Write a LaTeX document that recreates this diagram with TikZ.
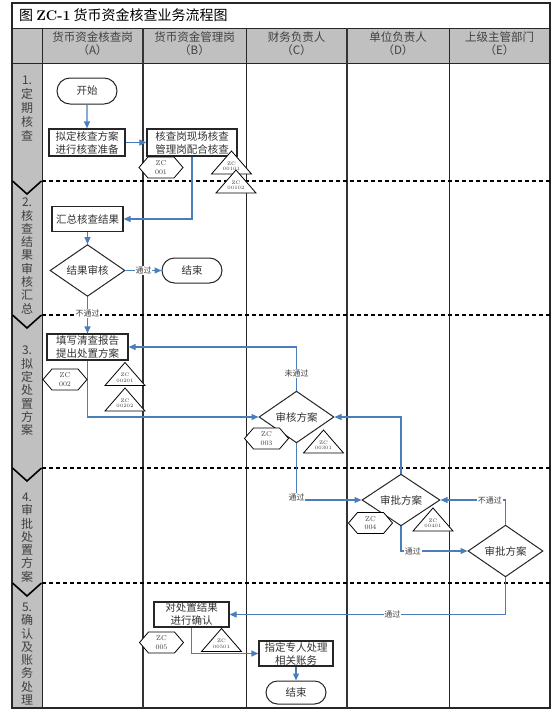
\documentclass[tikz,border=0pt]{standalone}
\usepackage{fontspec}
\newfontfamily\cjk{Noto Sans CJK SC}
\usetikzlibrary{arrows.meta,shapes.geometric,shapes.misc}
\definecolor{flowblue}{RGB}{74,126,187}
\definecolor{lanegray}{RGB}{192,192,192}
\newcommand\zctri[3]{% x, y, text
  \draw[fill=white,line width=0.8pt] (#1,#2) ++(-20,11.5) -- ++(40,0) -- ++(-20,-23) -- cycle;
  \node[trilbl] at (#1,#2+4) {ZC\\#3};}
\newcommand\zchex[3]{% x, y, text
  \draw[fill=white,line width=0.8pt] (#1,#2) ++(-22,0) -- ++(9,-10.5) -- ++(26,0) -- ++(9,10.5) -- ++(-9,10.5) -- ++(-26,0) -- cycle;
  \node[hexlbl] at (#1,#2) {ZC\\#3};}
\begin{document}
\begin{tikzpicture}[x=1pt,y=-1pt,
  flow/.style={draw=flowblue, line width=1.1pt, -{Triangle[length=7pt,width=6pt]}},
  boxn/.style={draw=black!85, line width=1.2pt, fill=white, align=center, inner sep=0pt,
     font=\cjk\fontsize{10.5}{13}\selectfont, text=black!80},
  termn/.style={rounded rectangle, draw=black!85, line width=1pt, fill=white, inner sep=0pt,
     font=\cjk\fontsize{10.5}{13}\selectfont, text=black!80},
  decn/.style={diamond, draw=black!85, line width=1pt, fill=white, inner sep=0pt,
     font=\cjk\fontsize{10.5}{13}\selectfont, text=black!80},
  lbl/.style={fill=white, inner sep=0.8pt, font=\cjk\fontsize{8}{9}\selectfont, text=black!75},
  trilbl/.style={align=center, inner sep=0pt, font=\fontsize{5}{5.5}\selectfont, text=black!75},
  hexlbl/.style={align=center, inner sep=0pt, font=\fontsize{7}{8.5}\selectfont, text=black!75},
  phase/.style={align=center, inner sep=0pt, text=black!75, font=\cjk\fontsize{12}{13.3}\selectfont},
  headt/.style={align=center, inner sep=0pt, text=black!75, font=\cjk\fontsize{11.5}{13}\selectfont},
  lane/.style={line width=1pt, draw=black!85},
  lanethick/.style={line width=1.8pt, draw=black!80},
  sep/.style={line width=1.6pt, dash pattern=on 4pt off 3pt},
  chev/.style={line width=1.6pt, draw=black}
]
\useasboundingbox (0,0) rectangle (554,720);
% fills
\fill[lanegray] (12,28) rectangle (550,63);
\fill[lanegray] (12,63) rectangle (42,708);
% title
\node[anchor=west, inner sep=0pt, font=\cjk\fontsize{14}{16}\selectfont] (title) at (19,15)
  {图 {\rmfamily\bfseries ZC-1} 货币资金核查业务流程图};
% frame
\draw[line width=1.2pt, draw=black!85] (12,3) rectangle (550,708);
\draw[lane] (12,28) -- (550,28);
\draw[lane] (12,63) -- (550,63);
\draw[lane] (42,28) -- (42,708);
\draw[lanethick] (143,28) -- (143,708);
\draw[lane] (246,28) -- (246,708);
\draw[lanethick] (347,28) -- (347,708);
\draw[lane] (449,28) -- (449,708);
% header
\node[headt] (hA) at (92.5,43.5) {货币资金核查岗\\（A）};
\node[headt] (hB) at (194.5,43.5) {货币资金管理岗\\（B）};
\node[headt] (hC) at (296.5,43.5) {财务负责人\\（C）};
\node[headt] (hD) at (398,43.5) {单位负责人\\（D）};
\node[headt] (hE) at (499.5,43.5) {上级主管部门\\（E）};
% phase separators
\foreach \yy in {181,315,468,583} {
  \draw[sep] (42,\yy) -- (550,\yy);
  \draw[chev] (12.5,\yy) -- (27,\yy+13) -- (41.5,\yy);
}
% phase labels
\node[phase, font=\cjk\fontsize{12}{14}\selectfont] (p1) at (27,109) {1.\\定\\期\\核\\查};
\node[phase] (p2) at (27,256) {2.\\核\\查\\结\\果\\审\\核\\汇\\总};
\node[phase] (p3) at (27,391) {3.\\拟\\定\\处\\置\\方\\案};
\node[phase] (p4) at (27,537.5) {4.\\审\\批\\处\\置\\方\\案};
\node[phase] (p5) at (27,654) {5.\\确\\认\\及\\账\\务\\处\\理};
% nodes
\node[termn, minimum width=60pt, minimum height=26pt] (start) at (87,91) {开始};
\node[boxn, minimum width=76pt, minimum height=27pt] (b1) at (87,142.5) {拟定核查方案\\进行核查准备};
\node[boxn, minimum width=90pt, minimum height=27pt] (b2) at (192,142.5) {核查岗现场核查\\管理岗配合核查};
\node[boxn, minimum width=71pt, minimum height=25pt] (b3) at (87.5,219) {汇总核查结果};
\node[decn, minimum width=75pt, minimum height=35pt] (d1) at (87.5,270.5) {结果审核};
\node[termn, minimum width=60pt, minimum height=25pt] (end1) at (192,270.5) {结束};
\node[boxn, minimum width=81pt, minimum height=26pt] (b4) at (87.5,347) {填写清查报告\\提出处置方案};
\node[decn, minimum width=75pt, minimum height=38pt] (d2) at (296.5,417) {审核方案};
\node[decn, minimum width=78pt, minimum height=38pt] (d3) at (401,500) {审批方案};
\node[decn, minimum width=75pt, minimum height=38pt] (d4) at (505.5,551) {审批方案};
\node[boxn, minimum width=75pt, minimum height=25pt] (b5) at (191.5,614.5) {对处置结果\\进行确认};
\node[boxn, minimum width=74pt, minimum height=25pt] (b6) at (296,653.5) {指定专人处理\\相关账务};
\node[termn, minimum width=60pt, minimum height=23pt] (end2) at (296,692.5) {结束};
% connectors
\draw[flow] (start) -- (b1);
\draw[flow] (b1) -- (b2);
\draw[flow] (b2.south) |- (b3.east);
\draw[flow] (b3) -- (d1);
\draw[flow] (d1) -- node[lbl]{通过} (end1);
\draw[flow] (d1) -- node[lbl, pos=0.45]{不通过} (b4);
\draw[flow] (b4.south) |- (d2.west);
\draw[flow] (d2.north) |- node[lbl, pos=0.2]{未通过} (b4.east);
\draw[flow] (d2.south) |- node[lbl, pos=0.5, yshift=3pt]{通过} (d3.west);
\draw[flow] (d3.north) |- (d2.east);
\draw[flow] (d3.south) |- node[lbl, pos=0.59]{通过} (d4.west);
\draw[flow] (d4.north) |- node[lbl, pos=0.62]{不通过} (d3.east);
\draw[flow] (d4.south) |- node[lbl, pos=0.705]{通过} (b5.east);
\draw[flow] (b5.south) |- (b6.west);
\draw[flow] (b6) -- (end2);
% risk markers
\zchex{161}{167.5}{001}
\zctri{231.5}{162.5}{00101}
\zctri{236}{181.5}{00102}
\zchex{65}{379.5}{002}
\zctri{125}{374}{00201}
\zctri{125}{399.5}{00202}
\zchex{266.5}{438.5}{003}
\zctri{323.5}{441.5}{00301}
\zchex{370.5}{523}{004}
\zctri{433}{519.5}{00401}
\zchex{161.5}{642.5}{005}
\zctri{221.5}{640}{00501}
\end{tikzpicture}
\end{document}
